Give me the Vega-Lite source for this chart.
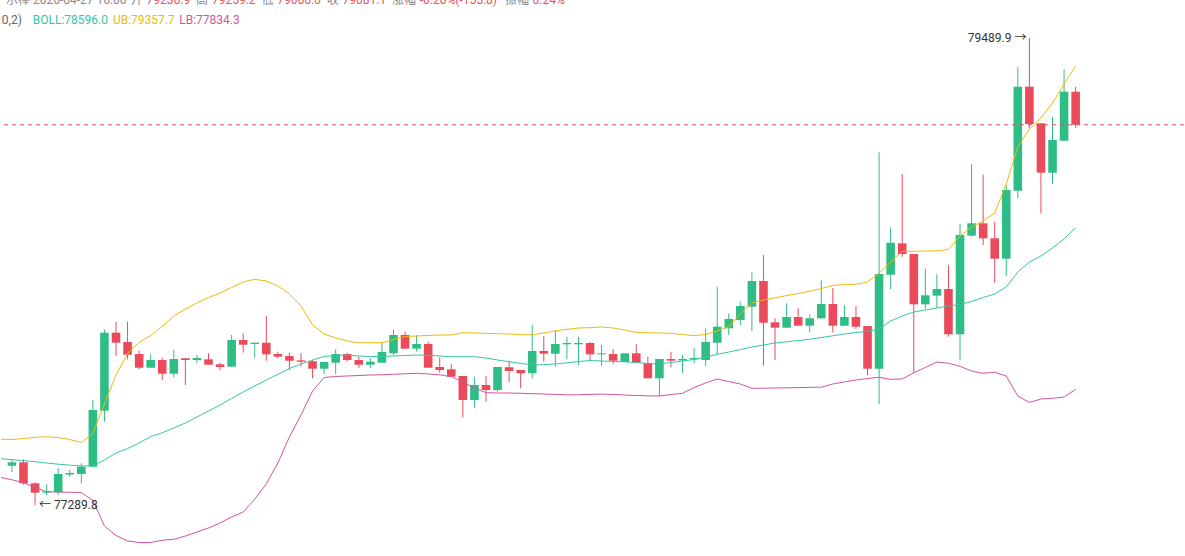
{
  "$schema": "https://vega.github.io/schema/vega-lite/v6.json",
  "width": 1185,
  "height": 556,
  "autosize": {"type": "fit", "contains": "padding"},
  "padding": 0,
  "background": "#ffffff",
  "config": {"view": {"stroke": null}, "text": {"font": "Roboto, 'Noto Sans CJK SC', sans-serif"}},
  "datasets": {
    "k": [
      {"i":-1,"m":77508.0,"u":77600.0,"b":77420.0},
      {"i":0,"o":77475.0,"h":77501.8,"l":77445.3,"c":77491.0,"m":77503.7,"u":77598.4,"b":77408.6},
      {"i":1,"o":77491.0,"h":77505.1,"l":77386.4,"c":77392.1,"m":77498.5,"u":77603.1,"b":77394.9},
      {"i":2,"o":77392.1,"h":77396.8,"l":77289.8,"c":77347.8,"m":77493.8,"u":77608.8,"b":77372.3},
      {"i":3,"o":77347.8,"h":77387.4,"l":77337.0,"c":77353.4,"m":77487.7,"u":77611.1,"b":77352.5},
      {"i":4,"o":77349.7,"h":77462.7,"l":77337.0,"c":77435.9,"m":77482.1,"u":77607.8,"b":77351.1},
      {"i":5,"o":77433.5,"h":77454.7,"l":77423.2,"c":77440.6,"m":77477.8,"u":77598.4,"b":77349.7},
      {"i":6,"o":77435.9,"h":77486.3,"l":77392.1,"c":77470.3,"m":77473.6,"u":77584.3,"b":77348.3},
      {"i":7,"o":77470.3,"h":77784.5,"l":77468.9,"c":77737.4,"m":77475.0,"u":77626.7,"b":77311.0},
      {"i":8,"o":77734.1,"h":78117.6,"l":77682.3,"c":78101.6,"m":77501.8,"u":77765.7,"b":77190.9},
      {"i":9,"o":78101.6,"h":78152.0,"l":77991.8,"c":78054.4,"m":77534.8,"u":77902.3,"b":77146.2},
      {"i":10,"o":78057.7,"h":78153.4,"l":77976.2,"c":77997.9,"m":77556.0,"u":78003.6,"b":77120.3},
      {"i":11,"o":78001.2,"h":78016.8,"l":77929.1,"c":77936.7,"m":77581.9,"u":78055.4,"b":77113.2},
      {"i":12,"o":77936.7,"h":77999.8,"l":77936.7,"c":77972.9,"m":77612.6,"u":78088.4,"b":77113.2},
      {"i":13,"o":77972.9,"h":77983.8,"l":77878.7,"c":77908.4,"m":77630.0,"u":78130.8,"b":77123.6},
      {"i":14,"o":77908.4,"h":78020.1,"l":77891.4,"c":77977.7,"m":77652.6,"u":78180.2,"b":77128.3},
      {"i":15,"o":77981.0,"h":77982.4,"l":77855.2,"c":77972.9,"m":77676.2,"u":78213.2,"b":77143.8},
      {"i":16,"o":77972.9,"h":77996.5,"l":77957.4,"c":77982.4,"m":77704.4,"u":78241.5,"b":77162.7},
      {"i":17,"o":77976.2,"h":78004.5,"l":77950.8,"c":77950.8,"m":77732.7,"u":78267.4,"b":77181.5},
      {"i":18,"o":77952.7,"h":77960.2,"l":77924.4,"c":77940.0,"m":77760.9,"u":78288.6,"b":77205.1},
      {"i":19,"o":77941.4,"h":78090.7,"l":77941.4,"c":78067.2,"m":77791.6,"u":78314.5,"b":77233.3},
      {"i":20,"o":78067.2,"h":78098.7,"l":78007.3,"c":78045.0,"m":77822.2,"u":78340.4,"b":77256.9},
      {"i":21,"o":78048.3,"h":78054.4,"l":77983.8,"c":78054.4,"m":77850.5,"u":78353.1,"b":77318.1},
      {"i":22,"o":78054.4,"h":78180.2,"l":77969.6,"c":77999.8,"m":77878.7,"u":78345.1,"b":77388.8},
      {"i":23,"o":78001.2,"h":78012.0,"l":77981.0,"c":77988.5,"m":77905.6,"u":78321.6,"b":77487.7},
      {"i":24,"o":77991.8,"h":78005.9,"l":77925.8,"c":77969.6,"m":77932.9,"u":78283.9,"b":77610.2},
      {"i":25,"o":77971.5,"h":78005.9,"l":77941.4,"c":77964.9,"m":77954.1,"u":78227.3,"b":77713.8},
      {"i":26,"o":77966.8,"h":77972.9,"l":77886.7,"c":77932.0,"m":77972.9,"u":78137.8,"b":77826.9},
      {"i":27,"o":77932.0,"h":77963.5,"l":77907.0,"c":77963.5,"m":77989.4,"u":78095.4,"b":77890.5},
      {"i":28,"o":77960.2,"h":78023.4,"l":77907.0,"c":78001.2,"m":77994.1,"u":78076.6,"b":77895.2},
      {"i":29,"o":78001.2,"h":78007.3,"l":77964.9,"c":77972.9,"m":77995.6,"u":78062.5,"b":77897.6},
      {"i":30,"o":77972.9,"h":77988.5,"l":77936.7,"c":77950.8,"m":77991.8,"u":78054.4,"b":77899.9},
      {"i":31,"o":77950.8,"h":77981.0,"l":77933.8,"c":77964.9,"m":77989.4,"u":78054.4,"b":77902.3},
      {"i":32,"o":77960.2,"h":78054.4,"l":77960.2,"c":78010.6,"m":77989.4,"u":78054.4,"b":77903.2},
      {"i":33,"o":78004.5,"h":78114.3,"l":77996.5,"c":78090.7,"m":77991.8,"u":78069.5,"b":77905.6},
      {"i":34,"o":78090.7,"h":78106.3,"l":78026.2,"c":78026.2,"m":77994.1,"u":78083.7,"b":77907.9},
      {"i":35,"o":78026.2,"h":78090.7,"l":78012.0,"c":78048.3,"m":77996.5,"u":78086.0,"b":77910.3},
      {"i":36,"o":78048.3,"h":78059.2,"l":77936.7,"c":77936.7,"m":77995.1,"u":78088.4,"b":77907.0},
      {"i":37,"o":77940.0,"h":77985.7,"l":77913.1,"c":77925.8,"m":77991.8,"u":78090.7,"b":77903.2},
      {"i":38,"o":77929.1,"h":77952.7,"l":77894.3,"c":77894.3,"m":77988.5,"u":78090.7,"b":77894.3},
      {"i":39,"o":77897.6,"h":77897.6,"l":77703.0,"c":77784.5,"m":77988.5,"u":78101.6,"b":77869.3},
      {"i":40,"o":77784.5,"h":77894.3,"l":77748.2,"c":77855.2,"m":77988.5,"u":78100.1,"b":77841.0},
      {"i":41,"o":77855.2,"h":77897.6,"l":77776.5,"c":77831.6,"m":77982.4,"u":78098.7,"b":77818.9},
      {"i":42,"o":77831.6,"h":77940.0,"l":77823.6,"c":77940.0,"m":77972.9,"u":78096.8,"b":77817.5},
      {"i":43,"o":77938.6,"h":77968.2,"l":77867.9,"c":77921.1,"m":77964.5,"u":78095.4,"b":77817.5},
      {"i":44,"o":77925.8,"h":77925.8,"l":77839.6,"c":77910.3,"m":77957.4,"u":78093.1,"b":77816.1},
      {"i":45,"o":77910.3,"h":78137.8,"l":77886.7,"c":78015.3,"m":77949.4,"u":78090.7,"b":77814.2},
      {"i":46,"o":78015.3,"h":78086.0,"l":77964.9,"c":78002.6,"m":77951.3,"u":78100.1,"b":77812.8},
      {"i":47,"o":78002.6,"h":78114.3,"l":77941.4,"c":78048.3,"m":77954.1,"u":78109.6,"b":77810.9},
      {"i":48,"o":78046.9,"h":78082.7,"l":77976.2,"c":78053.0,"m":77959.8,"u":78117.6,"b":77809.0},
      {"i":49,"o":78046.9,"h":78082.7,"l":77949.4,"c":78053.0,"m":77965.9,"u":78123.7,"b":77809.0},
      {"i":50,"o":78053.0,"h":78057.7,"l":77972.9,"c":77999.8,"m":77970.6,"u":78125.1,"b":77810.9},
      {"i":51,"o":77999.8,"h":78043.6,"l":77944.7,"c":78004.5,"m":77968.2,"u":78128.4,"b":77812.3},
      {"i":52,"o":78001.2,"h":78024.8,"l":77954.1,"c":77969.6,"m":77966.3,"u":78123.7,"b":77810.4},
      {"i":53,"o":77963.5,"h":78004.5,"l":77963.5,"c":78004.5,"m":77964.5,"u":78114.3,"b":77808.1},
      {"i":54,"o":78004.5,"h":78046.9,"l":77960.2,"c":77960.2,"m":77960.7,"u":78103.4,"b":77805.7},
      {"i":55,"o":77958.8,"h":77988.5,"l":77886.7,"c":77886.7,"m":77956.5,"u":78101.1,"b":77804.3},
      {"i":56,"o":77886.7,"h":77977.7,"l":77803.3,"c":77977.7,"m":77954.1,"u":78100.1,"b":77803.3},
      {"i":57,"o":77977.7,"h":78012.0,"l":77938.6,"c":77969.6,"m":77961.2,"u":78098.7,"b":77810.4},
      {"i":58,"o":77971.5,"h":77996.5,"l":77913.1,"c":77977.7,"m":77968.2,"u":78093.1,"b":77816.1},
      {"i":59,"o":77976.2,"h":78028.1,"l":77957.4,"c":77982.4,"m":77975.3,"u":78087.4,"b":77843.4},
      {"i":60,"o":77972.9,"h":78122.3,"l":77944.7,"c":78057.7,"m":77987.1,"u":78093.1,"b":77864.6},
      {"i":61,"o":78054.4,"h":78318.3,"l":78001.2,"c":78129.8,"m":77999.8,"u":78109.6,"b":77883.4},
      {"i":62,"o":78122.3,"h":78192.9,"l":78090.7,"c":78166.1,"m":78010.6,"u":78129.8,"b":77871.7},
      {"i":63,"o":78161.4,"h":78247.6,"l":78137.8,"c":78227.3,"m":78021.9,"u":78189.6,"b":77859.9},
      {"i":64,"o":78224.0,"h":78386.1,"l":78109.6,"c":78345.1,"m":78034.2,"u":78241.5,"b":77839.6},
      {"i":65,"o":78345.1,"h":78467.6,"l":77946.1,"c":78148.7,"m":78043.6,"u":78255.6,"b":77840.1},
      {"i":66,"o":78150.5,"h":78169.4,"l":77972.9,"c":78125.1,"m":78053.0,"u":78266.0,"b":77841.0},
      {"i":67,"o":78125.1,"h":78240.1,"l":78125.1,"c":78175.5,"m":78058.7,"u":78276.8,"b":77842.0},
      {"i":68,"o":78175.5,"h":78216.5,"l":78134.5,"c":78134.5,"m":78064.3,"u":78286.2,"b":77842.9},
      {"i":69,"o":78134.5,"h":78188.2,"l":78103.4,"c":78169.4,"m":78070.5,"u":78296.6,"b":77843.9},
      {"i":70,"o":78169.4,"h":78348.4,"l":78169.4,"c":78236.8,"m":78078.9,"u":78309.8,"b":77844.8},
      {"i":71,"o":78236.8,"h":78312.1,"l":78103.4,"c":78134.5,"m":78087.0,"u":78323.9,"b":77859.9},
      {"i":72,"o":78134.5,"h":78232.0,"l":78134.5,"c":78175.5,"m":78095.4,"u":78329.6,"b":77869.3},
      {"i":73,"o":78175.5,"h":78227.3,"l":78119.0,"c":78129.8,"m":78102.5,"u":78329.6,"b":77878.7},
      {"i":74,"o":78133.1,"h":78133.1,"l":77900.9,"c":77932.0,"m":78108.2,"u":78340.4,"b":77885.8},
      {"i":75,"o":77932.0,"h":78951.4,"l":77764.2,"c":78378.1,"m":78119.0,"u":78382.8,"b":77891.4},
      {"i":76,"o":78374.8,"h":78598.1,"l":78307.4,"c":78525.5,"m":78156.7,"u":78432.3,"b":77882.0},
      {"i":77,"o":78522.7,"h":78849.2,"l":78459.6,"c":78472.3,"m":78180.2,"u":78484.1,"b":77883.4},
      {"i":78,"o":78472.3,"h":78472.3,"l":77910.3,"c":78235.3,"m":78199.1,"u":78485.0,"b":77913.1},
      {"i":79,"o":78235.3,"h":78403.1,"l":78214.6,"c":78277.7,"m":78208.5,"u":78486.4,"b":77937.6},
      {"i":80,"o":78275.9,"h":78376.7,"l":78219.3,"c":78307.4,"m":78217.9,"u":78487.4,"b":77963.5},
      {"i":81,"o":78307.4,"h":78419.1,"l":78082.7,"c":78094.0,"m":78227.3,"u":78493.5,"b":77957.4},
      {"i":82,"o":78094.0,"h":78613.6,"l":77972.9,"c":78561.8,"m":78234.4,"u":78557.1,"b":77943.3},
      {"i":83,"o":78558.5,"h":78894.9,"l":78553.8,"c":78616.9,"m":78248.5,"u":78599.5,"b":77921.1},
      {"i":84,"o":78616.9,"h":78845.9,"l":78514.7,"c":78546.3,"m":78267.4,"u":78627.8,"b":77910.3},
      {"i":85,"o":78546.3,"h":78624.5,"l":78337.1,"c":78450.2,"m":78283.9,"u":78665.5,"b":77915.0},
      {"i":86,"o":78450.2,"h":78797.4,"l":78370.1,"c":78773.8,"m":78316.8,"u":78802.1,"b":77897.6},
      {"i":87,"o":78770.5,"h":79351.9,"l":78734.7,"c":79260.5,"m":78387.5,"u":78976.4,"b":77803.3},
      {"i":88,"o":79260.5,"h":79489.9,"l":79064.5,"c":79084.7,"m":78434.6,"u":79061.2,"b":77772.7},
      {"i":89,"o":79088.0,"h":79088.0,"l":78664.0,"c":78855.3,"m":78462.9,"u":79113.0,"b":77789.2},
      {"i":90,"o":78855.3,"h":79119.1,"l":78802.1,"c":79009.4,"m":78500.6,"u":79183.7,"b":77792.5},
      {"i":91,"o":79006.1,"h":79342.4,"l":79006.1,"c":79236.9,"m":78543.0,"u":79273.2,"b":77798.6},
      {"i":92,"o":79236.9,"h":79259.2,"l":79066.6,"c":79081.1,"m":78596.0,"u":79357.7,"b":77834.3}
    ],
    "hdr": [
      {"i":-0.514,"p":79650.1,"t":"示棒 2026-04-27 16:00","k":"g"},
      {"i":10.274,"p":79650.1,"t":"开","k":"g"},
      {"i":11.644,"p":79650.1,"t":"79236.9","k":"r"},
      {"i":15.925,"p":79650.1,"t":"高","k":"g"},
      {"i":17.295,"p":79650.1,"t":"79259.2","k":"r"},
      {"i":21.575,"p":79650.1,"t":"低","k":"g"},
      {"i":22.945,"p":79650.1,"t":"79066.6","k":"r"},
      {"i":27.226,"p":79650.1,"t":"收","k":"g"},
      {"i":28.596,"p":79650.1,"t":"79081.1","k":"r"},
      {"i":32.877,"p":79650.1,"t":"涨幅","k":"g"},
      {"i":35.274,"p":79650.1,"t":"-0.20%(-155.8)","k":"r"},
      {"i":42.637,"p":79650.1,"t":"振幅","k":"g"},
      {"i":45.034,"p":79650.1,"t":"0.24%","k":"r"},
      {"i":1.798,"p":79555.8,"t":"BOLL:78596.0","k":"m"},
      {"i":8.733,"p":79555.8,"t":"UB:79357.7","k":"u"},
      {"i":14.47,"p":79555.8,"t":"LB:77834.3","k":"b"}
    ]
  },
  "layer": [
    {
      "data": {"name": "k"},
      "transform": [{"filter": "isValid(datum.o)"}],
      "mark": {"type": "rule", "strokeWidth": 1, "clip": true},
      "encoding": {
        "x": {"field": "i", "type": "quantitative", "scale": {"domain": [-0.514, 100.94], "nice": false, "zero": false}, "axis": null},
        "y": {"field": "l", "type": "quantitative", "scale": {"domain": [77049.6, 79668.9], "nice": false, "zero": false}, "axis": null},
        "y2": {"field": "h"},
        "color": {"condition": {"test": "datum.c >= datum.o", "value": "#2ebd85"}, "value": "#ea4a5a"}
      }
    },
    {
      "data": {"name": "k"},
      "transform": [{"filter": "isValid(datum.o)"}],
      "mark": {"type": "bar", "width": 8.6, "clip": true},
      "encoding": {
        "x": {"field": "i", "type": "quantitative"},
        "y": {"field": "o", "type": "quantitative"},
        "y2": {"field": "c"},
        "color": {"condition": {"test": "datum.c >= datum.o", "value": "#2ebd85"}, "value": "#ea4a5a"}
      }
    },
    {
      "data": {"name": "k"},
      "mark": {"type": "line", "color": "#35c6a6", "strokeWidth": 1, "clip": true},
      "encoding": {"x": {"field": "i", "type": "quantitative"}, "y": {"field": "m", "type": "quantitative"}}
    },
    {
      "data": {"name": "k"},
      "mark": {"type": "line", "color": "#f0b90b", "strokeWidth": 1, "clip": true},
      "encoding": {"x": {"field": "i", "type": "quantitative"}, "y": {"field": "u", "type": "quantitative"}}
    },
    {
      "data": {"name": "k"},
      "mark": {"type": "line", "color": "#d2559a", "strokeWidth": 1, "clip": true},
      "encoding": {"x": {"field": "i", "type": "quantitative"}, "y": {"field": "b", "type": "quantitative"}}
    },
    {
      "data": {"values": [{"p": 79081.1}]},
      "mark": {"type": "rule", "color": "#d9535d", "strokeWidth": 1, "strokeDash": [4, 4]},
      "encoding": {"y": {"field": "p", "type": "quantitative"}}
    },
    {
      "data": {"values": [{"i": 88, "p": 79489.9, "t": "79489.9 →"}]},
      "mark": {"type": "text", "align": "right", "baseline": "middle", "dx": -3, "fontSize": 12, "color": "#333333", "clip": true},
      "encoding": {"x": {"field": "i", "type": "quantitative"}, "y": {"field": "p", "type": "quantitative"}, "text": {"field": "t"}}
    },
    {
      "data": {"values": [{"i": 2, "p": 77289.8, "t": "← 77289.8"}]},
      "mark": {"type": "text", "align": "left", "baseline": "middle", "dx": 4, "fontSize": 12, "color": "#333333", "clip": true},
      "encoding": {"x": {"field": "i", "type": "quantitative"}, "y": {"field": "p", "type": "quantitative"}, "text": {"field": "t"}}
    },
    {
      "data": {"values": [{"i": 0.856, "p": 79555.8, "t": "BOLL(20,2)"}]},
      "mark": {"type": "text", "align": "right", "baseline": "alphabetic", "fontSize": 12, "color": "#666666", "clip": true},
      "encoding": {"x": {"field": "i", "type": "quantitative"}, "y": {"field": "p", "type": "quantitative"}, "text": {"field": "t"}}
    },
    {
      "data": {"name": "hdr"},
      "mark": {"type": "text", "align": "left", "baseline": "alphabetic", "fontSize": 12, "clip": true},
      "encoding": {
        "x": {"field": "i", "type": "quantitative"},
        "y": {"field": "p", "type": "quantitative"},
        "text": {"field": "t"},
        "color": {"field": "k", "type": "nominal", "scale": {"domain": ["g", "r", "m", "u", "b"], "range": ["#8a8a8a", "#e8505a", "#35c6a6", "#f0b90b", "#d2559a"]}, "legend": null}
      }
    }
  ]
}
